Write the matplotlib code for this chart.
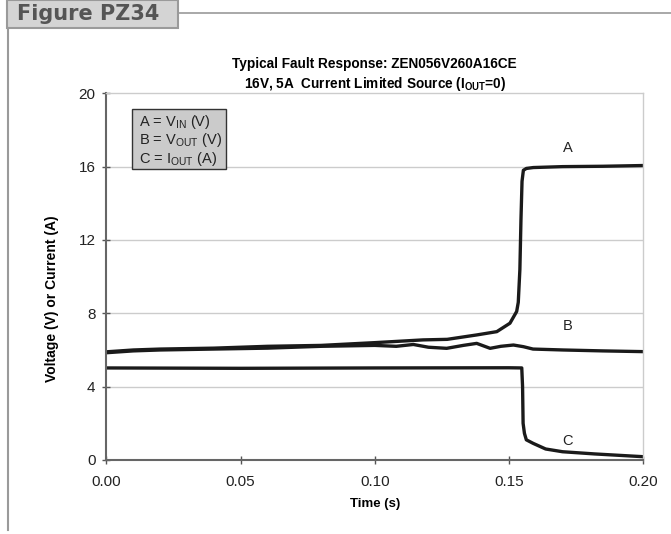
import matplotlib
matplotlib.use("Agg")
import matplotlib.pyplot as plt
from matplotlib.patches import Rectangle
from matplotlib.lines import Line2D

plt.rcParams['font.family'] = ['Liberation Sans', 'DejaVu Sans']
plt.rcParams['mathtext.fontset'] = 'custom'
plt.rcParams['mathtext.rm'] = 'Liberation Sans'

# curve A : V_IN (V)
t_a = [0, 0.01, 0.02, 0.04, 0.06, 0.08, 0.10, 0.118, 0.127, 0.138, 0.1455,
       0.1504, 0.1529, 0.1535, 0.1541, 0.1545, 0.1549, 0.1554, 0.1565, 0.1591,
       0.17, 0.185, 0.2]
v_a = [5.9, 6.0, 6.05, 6.1, 6.2, 6.25, 6.4, 6.55, 6.58, 6.82, 7.0,
       7.46, 8.1, 8.6, 10.4, 13.1, 15.2, 15.8, 15.9, 15.95,
       16.0, 16.02, 16.06]

# curve B : V_OUT (V)
t_b = [0, 0.01, 0.02, 0.04, 0.06, 0.08, 0.10, 0.108, 0.1144, 0.12, 0.1268,
       0.133, 0.138, 0.143, 0.147, 0.1517, 0.1554, 0.159, 0.1702, 0.185, 0.2]
v_b = [5.85, 5.95, 6.0, 6.05, 6.1, 6.2, 6.25, 6.2, 6.3, 6.15, 6.09,
       6.25, 6.36, 6.09, 6.2, 6.27, 6.18, 6.05, 6.0, 5.95, 5.91]

# curve C : I_OUT (A)
t_c = [0, 0.05, 0.10, 0.15, 0.1548, 0.1551, 0.1553, 0.1558, 0.1565, 0.159,
       0.1637, 0.170, 0.182, 0.2]
v_c = [5.02, 5.0, 5.02, 5.03, 5.02, 4.0, 2.0, 1.45, 1.1, 0.91,
       0.6, 0.45, 0.33, 0.18]

x_ticks = [0.00, 0.05, 0.10, 0.15, 0.20]
y_ticks = [0, 4, 8, 12, 16, 20]

fig = plt.figure(figsize=(6.71, 5.34), dpi=100)
ax = fig.add_axes([0.1587, 0.1386, 0.7996, 0.6867])

for v in y_ticks[1:-1]:
    ax.axhline(v, color='#cccccc', lw=1, zorder=0)

ax.plot(t_a, v_a, color='#1a1a1a', lw=2.4, solid_capstyle='round')
ax.plot(t_b, v_b, color='#1a1a1a', lw=2.4, solid_capstyle='round')
ax.plot(t_c, v_c, color='#1a1a1a', lw=2.4, solid_capstyle='round')

ax.text(0.172, 17.0, 'A', fontsize=10.5, color='#222222', ha='center', va='center')
ax.text(0.172, 7.3, 'B', fontsize=10.5, color='#222222', ha='center', va='center')
ax.text(0.172, 1.05, 'C', fontsize=10.5, color='#222222', ha='center', va='center')

ax.set_xlim(0, 0.2)
ax.set_ylim(0, 20)
ax.set_xticks(x_ticks)
ax.set_xticklabels(['%.2f' % x for x in x_ticks])
ax.set_yticks(y_ticks)
ax.tick_params(axis='both', direction='inout', length=6, width=1,
               color='#555555', labelsize=11, labelcolor='#222222')
ax.tick_params(axis='y', pad=5)
ax.tick_params(axis='x', pad=8)

ax.spines['top'].set_color('#cccccc')
ax.spines['top'].set_linewidth(1)
ax.spines['right'].set_color('#cccccc')
ax.spines['right'].set_linewidth(1)
for s in ['left', 'bottom']:
    ax.spines[s].set_color('#666666')
    ax.spines[s].set_linewidth(1.5)

ax.set_xlabel('Time (s)', fontsize=9.5, fontweight='bold', labelpad=6)
ax.set_ylabel('Voltage (V) or Current (A)', fontsize=10, fontweight='bold')
ax.yaxis.set_label_coords(-0.088, 0.44)
ax.set_title('Typical Fault Response: ZEN056V260A16CE\n'
             r'16V, 5A  Current Limited Source (I$_\mathregular{OUT}$=0)',
             fontsize=9.8, fontweight='bold', pad=4, linespacing=1.25)

# legend box
ax.add_patch(Rectangle((0.0475, 0.7936), 0.175, 0.164, transform=ax.transAxes,
                       facecolor='#cbcbcb', edgecolor='#333333', lw=1, zorder=5))
legend_lines = [r'A = V$_\mathregular{IN}$ (V)',
                r'B = V$_\mathregular{OUT}$ (V)',
                r'C = I$_\mathregular{OUT}$ (A)']
for i, s in enumerate(legend_lines):
    ax.text(0.0606, 0.9226 - i * 0.051, s, transform=ax.transAxes, fontsize=10.5,
            color='#222222', va='center', ha='left', zorder=6)

# page header
fig.add_artist(Rectangle((7 / 671, 1 - 28 / 534), 171 / 671, 28 / 534,
                         transform=fig.transFigure, facecolor='#d4d4d4',
                         edgecolor='#9a9a9a', lw=1.5))
fig.add_artist(Line2D([178 / 671, 1], [1 - 13 / 534, 1 - 13 / 534],
                      transform=fig.transFigure, color='#9a9a9a', lw=1.2))
fig.add_artist(Line2D([8 / 671, 8 / 671], [1 - 28 / 534, 1 - 530 / 534],
                      transform=fig.transFigure, color='#9a9a9a', lw=1.5))
fig.text(17 / 671, 1 - 14 / 534, 'Figure PZ34', fontsize=15, fontweight='bold',
         family=['DejaVu Sans'], color='#555555', va='center', ha='left')

fig.savefig('out.png', dpi=100)
